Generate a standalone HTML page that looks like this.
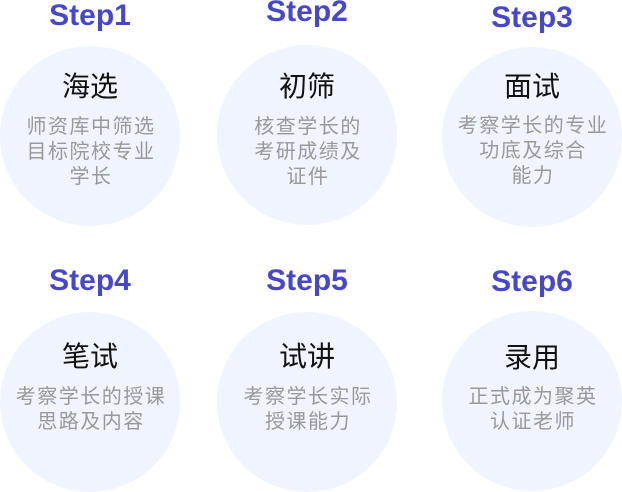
<!DOCTYPE html>
<html><head><meta charset="utf-8"><style>
body{margin:0;width:622px;height:492px;background:#fff;position:relative;overflow:hidden;font-family:"Liberation Sans","Noto Sans CJK SC",sans-serif}
.c{position:absolute;width:180px;height:180px;border-radius:50%;background:#eff4fe}
.s{position:absolute;width:180px;text-align:center;font-weight:bold;font-size:30px;color:#4747c9;line-height:32px}
.t{position:absolute;width:180px;text-align:center;font-size:28px;color:#111;line-height:32px}
.b{position:absolute;width:184px;text-align:center;font-size:20px;letter-spacing:1.5px;color:#999;line-height:25px}
</style></head><body>
<div class="s" style="left:0;top:0px">Step1</div>
<div class="c" style="left:0;top:46px"></div>
<div class="t" style="left:0;top:71px">海选</div>
<div class="b" style="left:-1px;top:115px">师资库中筛选<br>目标院校专业<br>学长</div>

<div class="s" style="left:217px;top:-4px">Step2</div>
<div class="c" style="left:217px;top:45px"></div>
<div class="t" style="left:217px;top:71px">初筛</div>
<div class="b" style="left:216px;top:115px">核查学长的<br>考研成绩及<br>证件</div>

<div class="s" style="left:442px;top:2px">Step3</div>
<div class="c" style="left:442px;top:47px"></div>
<div class="t" style="left:442px;top:71px">面试</div>
<div class="b" style="left:441px;top:114px">考察学长的专业<br>功底及综合<br>能力</div>

<div class="s" style="left:0;top:265px">Step4</div>
<div class="c" style="left:0;top:312px"></div>
<div class="t" style="left:0;top:341px">笔试</div>
<div class="b" style="left:-1px;top:385px">考察学长的授课<br>思路及内容</div>

<div class="s" style="left:217px;top:265px">Step5</div>
<div class="c" style="left:217px;top:312px"></div>
<div class="t" style="left:217px;top:341px">试讲</div>
<div class="b" style="left:216px;top:385px">考察学长实际<br>授课能力</div>

<div class="s" style="left:442px;top:266px">Step6</div>
<div class="c" style="left:442px;top:311px"></div>
<div class="t" style="left:442px;top:342px">录用</div>
<div class="b" style="left:441px;top:385px">正式成为聚英<br>认证老师</div>
</body></html>
